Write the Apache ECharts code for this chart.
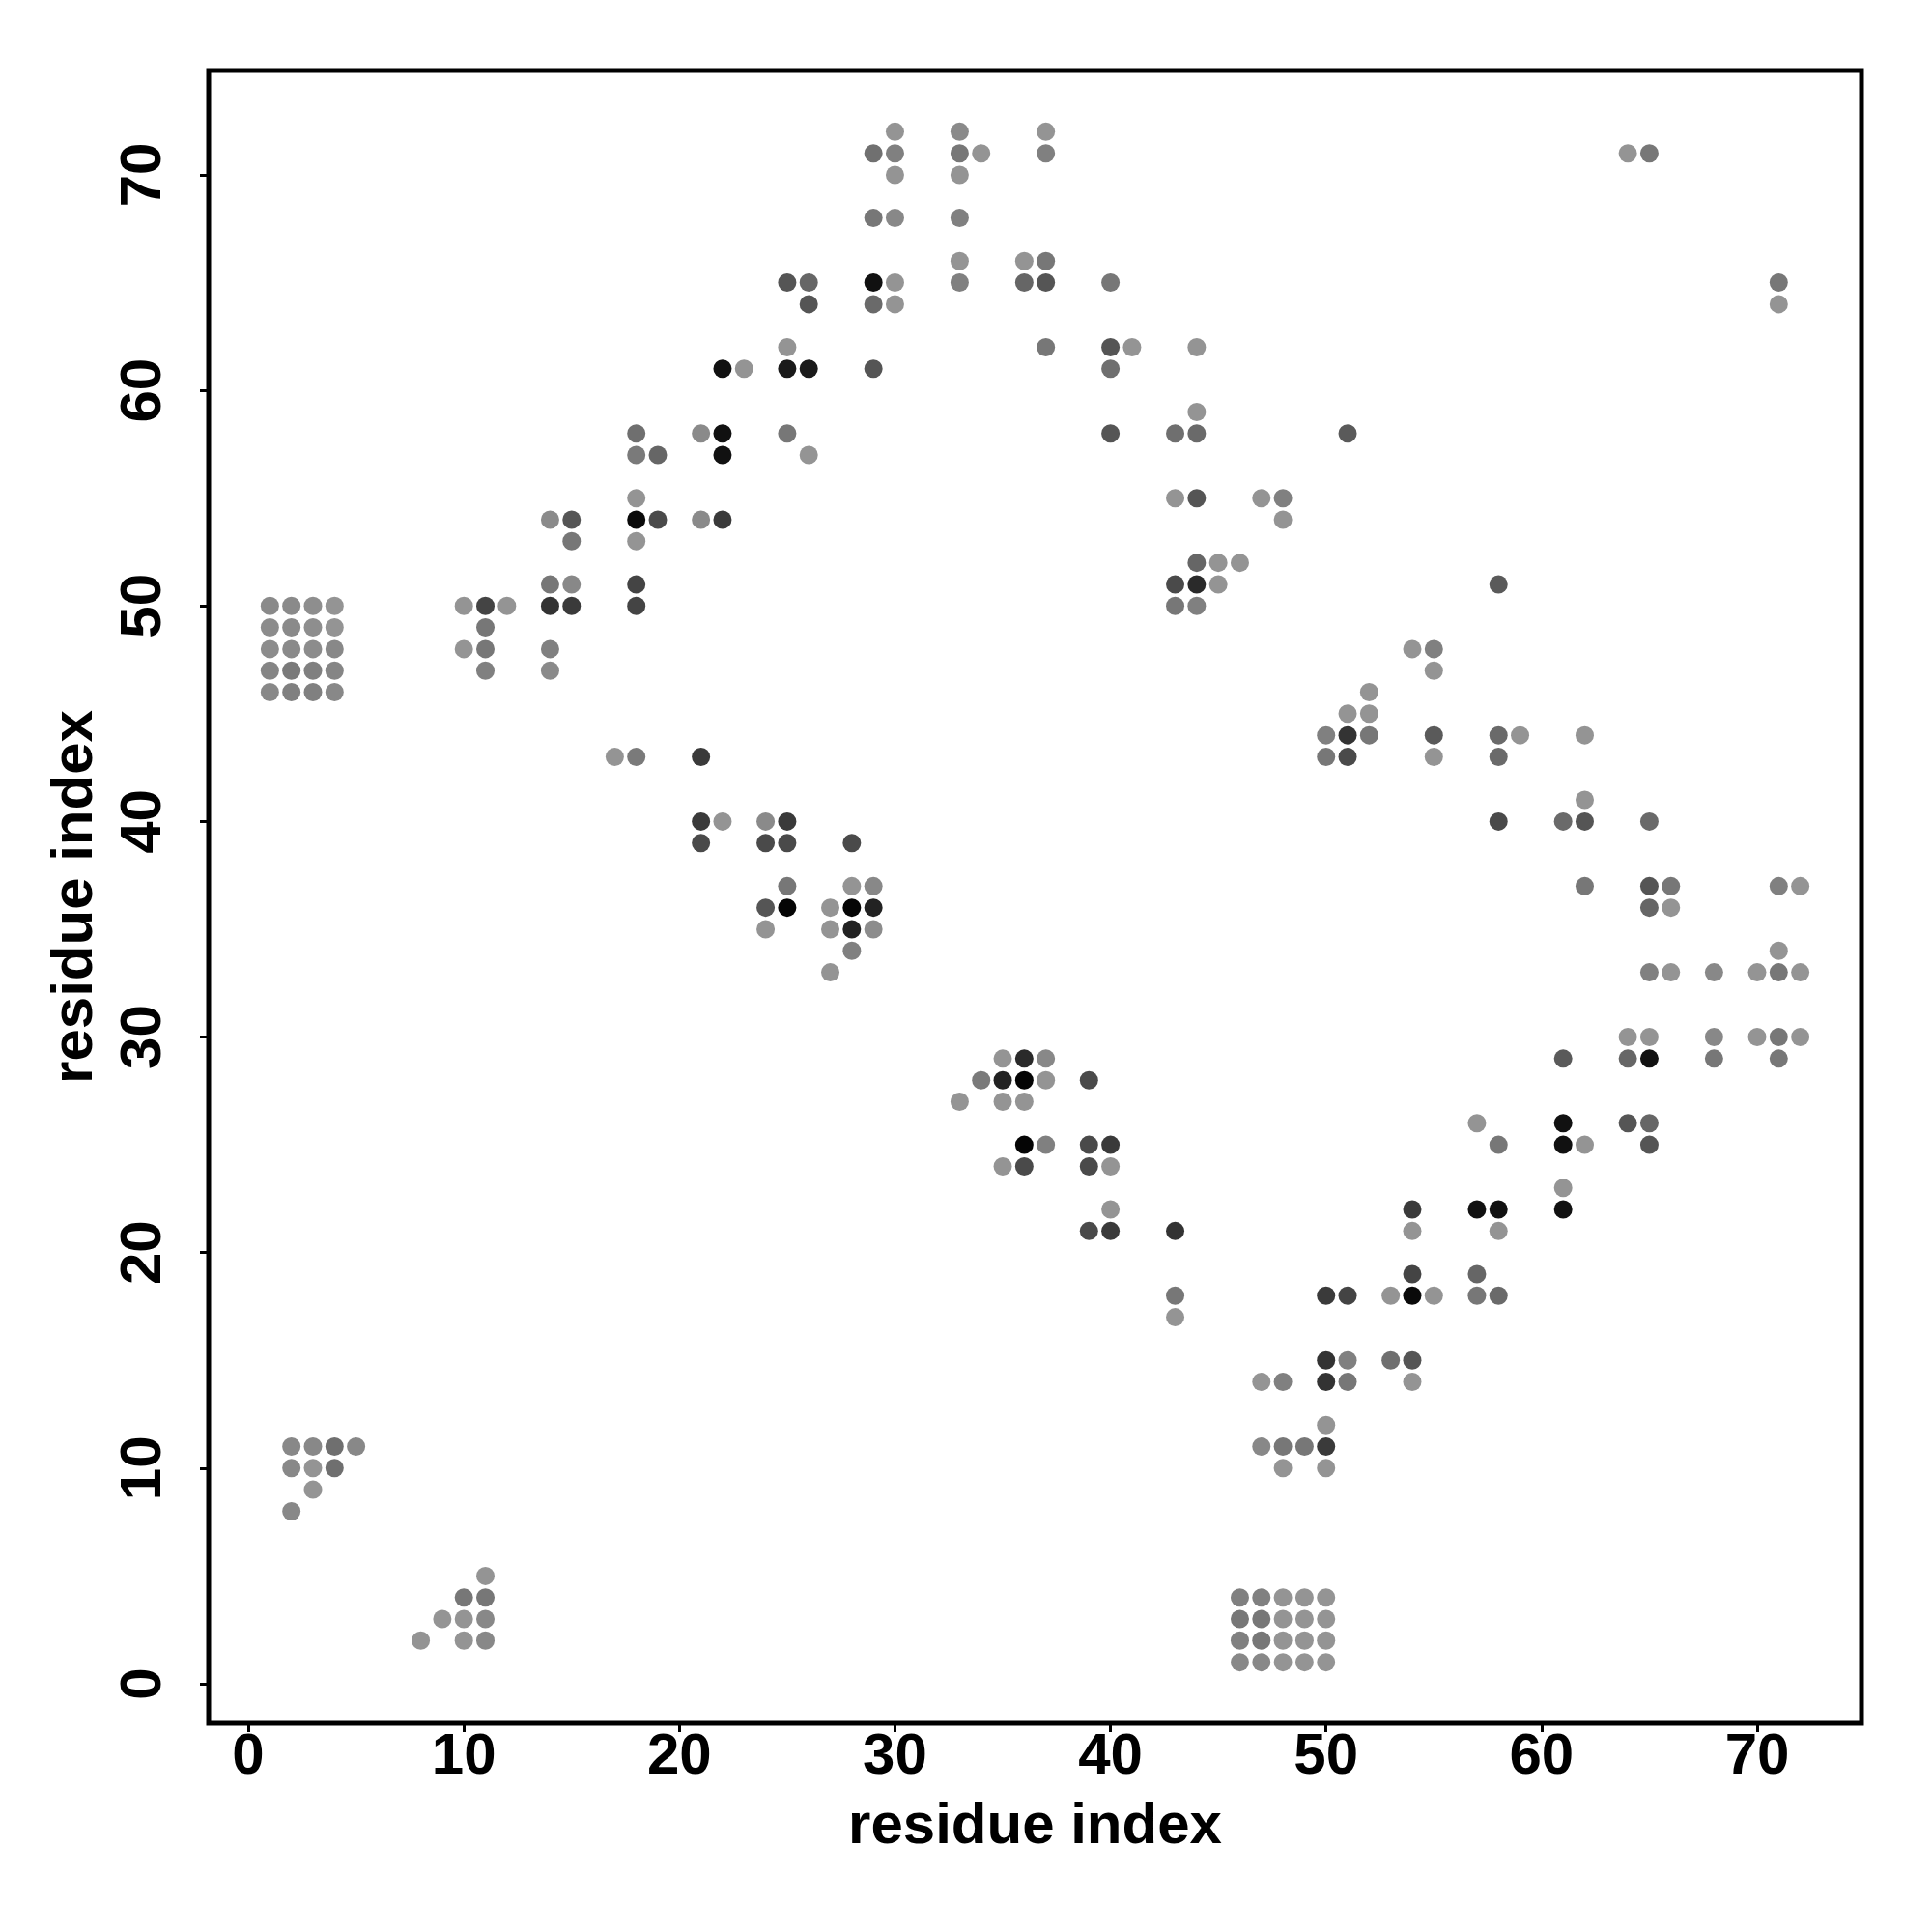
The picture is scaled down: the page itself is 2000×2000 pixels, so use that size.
<!DOCTYPE html>
<html>
<head>
<meta charset="utf-8">
<script src="https://cdn.jsdelivr.net/npm/echarts@6/dist/echarts.min.js"></script>
<style>
html,body{margin:0;padding:0;background:#fff;}
#chart{width:2000px;height:2000px;}
</style>
</head>
<body>
<div id="chart"></div>
<script>
// residue pair contacts: [residue i, residue j, gray level of the dot (0 = black, 255 = white)]
const contacts = [
  [22,61,17],[23,61,148],
  [18,58,111],[21,58,138],[22,58,17],
  [18,57,122],[19,57,102],[22,57,17],
  [18,55,148],
  [14,54,138],[15,54,85],[18,54,10],[19,54,74],[21,54,138],[22,54,58],
  [15,53,119],[18,53,148],
  [14,51,119],[15,51,136],[18,51,68],
  [14,50,51],[15,50,58],[18,50,68],
  [1,50,138],[2,50,138],[3,50,142],[4,50,148],
  [10,50,148],[11,50,68],[12,50,148],
  [11,49,119],
  [1,49,140],[2,49,138],[3,49,142],[4,49,148],
  [1,48,140],[2,48,138],[3,48,140],[4,48,136],
  [1,47,133],[2,47,122],[3,47,128],[4,47,133],
  [1,46,136],[2,46,128],[3,46,128],[4,46,136],
  [10,48,148],[11,48,119],[14,48,128],[11,47,128],[14,47,138],
  [17,43,148],[18,43,122],[21,43,58],
  [21,40,58],[22,40,148],[24,40,138],[21,39,74],[24,39,74],
  [24,36,85],[24,35,148],
  [25,40,58],[25,39,74],[28,39,74],[25,37,119],[25,36,5],
  [28,37,148],[29,37,136],[27,36,148],[28,36,5],[29,36,34],
  [27,35,148],[28,35,34],[29,35,140],[28,34,128],[27,33,148],
  [35,29,148],[36,29,42],[37,29,136],
  [34,28,122],[35,28,34],[36,28,5],[37,28,148],[39,28,74],
  [33,27,148],[35,27,148],[36,27,148],
  [36,25,5],[37,25,128],[39,25,74],[40,25,58],
  [35,24,148],[36,24,74],[39,24,74],[40,24,148],
  [30,72,148],[29,71,112],[30,71,128],[30,70,148],
  [33,72,138],[33,71,119],[34,71,148],[33,70,148],
  [37,72,148],[37,71,128],
  [29,68,119],[30,68,136],[33,68,128],
  [33,66,148],[36,66,148],[37,66,119],
  [33,65,128],[36,65,102],[37,65,85],[40,65,119],
  [25,65,85],[26,65,102],[26,64,85],
  [29,65,17],[30,65,148],[29,64,106],[30,64,148],
  [25,62,148],[25,61,26],[26,61,26],[29,61,85],
  [37,62,119],[40,62,85],[41,62,148],[40,61,111],[44,62,148],
  [25,58,119],[26,57,148],[40,58,85],
  [43,58,111],[44,58,106],[44,59,148],
  [43,55,148],[44,55,85],[47,55,148],[48,55,128],[48,54,148],
  [44,52,102],[45,52,148],[46,52,148],
  [43,51,74],[44,51,42],[45,51,148],
  [43,50,119],[44,50,128],
  [64,71,148],[65,71,119],[71,65,119],[71,64,148],[51,58,90],[58,51,90],
  [54,48,148],[55,48,128],[55,47,148],[52,46,148],[51,45,148],[52,45,148],
  [50,44,128],[51,44,51],[52,44,119],[50,43,119],[51,43,74],
  [55,44,90],[55,43,148],[58,44,106],[59,44,148],[58,43,106],
  [62,44,148],[62,41,148],[58,40,74],[61,40,106],[62,40,85],[65,40,106],
  [62,37,119],[65,37,85],[66,37,119],[65,36,102],[66,36,148],
  [71,37,128],[72,37,148],[71,34,148],
  [65,33,128],[66,33,148],[68,33,136],[70,33,148],[71,33,119],[72,33,148],
  [64,30,148],[65,30,148],[68,30,136],[70,30,148],[71,30,119],[72,30,148],
  [61,29,90],[64,29,102],[65,29,17],[68,29,119],[71,29,119],
  [57,26,148],[58,25,119],[61,26,17],[61,25,17],[62,25,148],[64,26,85],[65,26,102],[65,25,85],
  [40,22,148],[39,21,74],[40,21,58],[43,21,51],[43,18,119],[43,17,148],
  [47,14,148],[48,14,128],[47,11,136],[48,11,119],[49,11,119],[48,10,148],
  [46,4,128],[47,4,128],[48,4,148],[49,4,148],
  [46,3,119],[47,3,119],[48,3,148],[49,3,148],
  [46,2,128],[47,2,119],[48,2,148],[49,2,148],
  [46,1,136],[47,1,136],[48,1,148],[49,1,148],
  [61,23,148],[61,22,17],[54,22,58],[54,21,148],[57,22,17],[58,22,17],[58,21,148],
  [54,19,68],[50,18,58],[51,18,68],[53,18,148],[54,18,10],[55,18,148],
  [57,19,102],[57,18,119],[58,18,106],
  [50,15,51],[51,15,128],[53,15,111],[54,15,85],
  [50,14,51],[51,14,119],[54,14,148],
  [50,12,148],[50,11,58],[50,10,148],
  [50,4,148],[50,3,148],[50,2,148],[50,1,148],
  [2,11,136],[3,11,136],[4,11,111],[5,11,136],[2,10,136],[3,10,148],[4,10,111],[3,9,148],[2,8,136],
  [11,5,148],[10,4,119],[11,4,119],[9,3,148],[10,3,148],[11,3,136],[8,2,148],[10,2,148],[11,2,136]
];
const tickValues = [0, 10, 20, 30, 40, 50, 60, 70];
const xTitle = 'residue index';
const yTitle = 'residue index';
const axisMin = -1.84;
const axisMax = 74.84;

const FONT = '"Liberation Sans", Arial, Helvetica, sans-serif';
const labelStyle = {color: '#000', fontSize: 60, fontWeight: 'bold', fontFamily: FONT};

const chart = echarts.init(document.getElementById('chart'), null, {renderer: 'canvas'});
chart.setOption({
  backgroundColor: '#fff',
  animation: false,
  grid: {left: 216, top: 73, width: 1711, height: 1711, show: true,
         borderColor: '#000', borderWidth: 5, backgroundColor: 'transparent'},
  xAxis: {
    type: 'value', min: axisMin, max: axisMax, position: 'bottom',
    splitLine: {show: false},
    axisLine: {show: false, onZero: false},
    axisTick: {show: true, customValues: tickValues, length: 9, lineStyle: {color: '#000', width: 3}},
    axisLabel: Object.assign({customValues: tickValues, margin: 5}, labelStyle),
    name: xTitle, nameLocation: 'middle', nameGap: 77,
    nameTextStyle: Object.assign({}, labelStyle)
  },
  yAxis: {
    type: 'value', min: axisMin, max: axisMax, position: 'left',
    splitLine: {show: false},
    axisLine: {show: false, onZero: false},
    axisTick: {show: true, customValues: tickValues, length: 9, lineStyle: {color: '#000', width: 3}},
    axisLabel: Object.assign({customValues: tickValues, margin: 37, rotate: 90}, labelStyle),
    name: yTitle, nameLocation: 'middle', nameGap: 108, nameRotate: 90,
    nameTextStyle: Object.assign({}, labelStyle)
  },
  series: [{
    type: 'scatter',
    data: contacts,
    encode: {x: 0, y: 1},
    symbol: 'circle',
    symbolSize: 19,
    itemStyle: {
      opacity: 1,
      color: function (p) { const g = p.value[2]; return 'rgb(' + g + ',' + g + ',' + g + ')'; }
    }
  }]
});
</script>
</body>
</html>
